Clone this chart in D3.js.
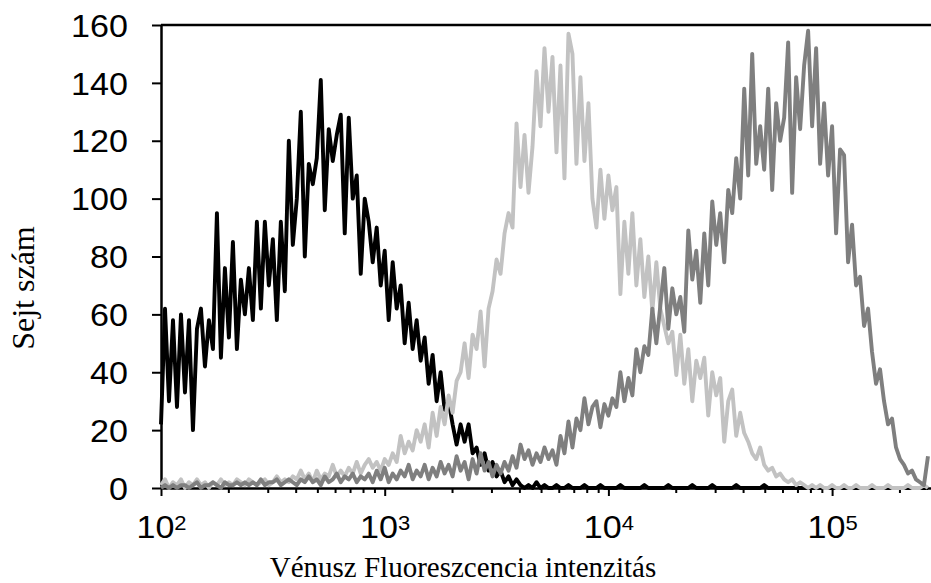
<!DOCTYPE html>
<html><head><meta charset="utf-8">
<script src="https://cdn.jsdelivr.net/npm/d3@7"></script>
<style>body{margin:0;background:#fff}svg{display:block}</style>
</head><body>
<svg id="c" width="931" height="583"></svg>
<script>
// ---- data (histogram bins, uniform in log10 space) ----
const binsPerDecade = 56;
const logStart = 2;
const blackCounts = [
22,62,30,58,28,60,33,58,20,55,
62,42,58,48,95,45,76,52,85,48,
72,60,76,58,92,62,92,70,86,58,
92,68,120,84,100,130,80,112,105,114,
141,96,124,113,122,129,88,128,100,108,
74,100,92,78,90,70,82,58,78,62,
70,50,64,48,58,44,52,36,46,30,
40,27,30,22,15,22,16,22,12,14,
8,12,6,9,4,6,2,4,1,3,
1,0,1,0,2,0,1,0,0,1,
0,0,1,0,0,0,1,0,0,0,
1,0,0,0,0,1,0,0,0,0,
0,1,0,0,0,0,0,1,0,0,
0,0,0,1,0,0,0,0,1,0,
0,0,0,0,1,0,0,0,0,0,
0,1,0,0,0,0,0,0,0,0,
0,0,0,0,0,0,0,0,0,0,
0,0,0,0,0,0,0,0,0,0,
0,0,0,0,0,0,0,0,0,0,
0,0,0];
const lightCounts = [
1,3,0,2,1,3,0,2,1,3,
1,2,0,2,1,3,1,2,1,3,
2,1,3,2,1,2,3,1,2,4,
2,3,2,4,3,6,3,5,2,6,
3,5,4,8,4,6,4,7,5,9,
5,8,10,7,9,6,10,8,12,9,
18,12,16,13,20,16,22,14,26,18,
28,22,32,26,37,40,50,38,53,48,
61,42,62,68,79,74,88,95,90,126,
104,122,102,118,144,125,152,130,149,116,
146,107,157,150,112,142,113,133,100,90,
110,93,108,96,104,67,92,74,95,70,
86,66,80,61,78,62,56,50,54,39,
53,36,48,30,44,38,45,25,40,32,
38,16,30,34,18,26,19,16,12,10,
14,8,6,7,4,5,3,2,3,1,
2,1,0,1,0,1,0,0,1,0,
0,1,0,0,1,0,0,0,1,0,
0,0,1,0,0,0,0,1,0,0,
0,1,0];
const darkCounts = [
0,1,0,1,0,1,1,0,1,2,
0,1,1,2,1,0,2,1,1,2,
1,2,1,2,1,3,1,2,2,3,
1,2,3,2,1,3,2,4,2,3,
1,4,2,3,5,2,4,3,5,2,
4,3,5,2,6,3,7,2,5,3,
6,4,8,3,6,4,8,3,7,4,
9,5,8,4,11,6,9,3,10,5,
12,6,9,4,8,5,9,6,11,7,
15,10,13,8,12,9,14,10,13,8,
18,12,23,14,24,20,31,22,28,30,
21,29,25,31,28,40,30,38,32,48,
40,49,46,62,50,63,76,55,69,60,
66,54,89,72,82,64,88,70,99,84,
95,78,103,95,114,100,138,108,150,112,
125,110,138,103,133,120,128,154,102,142,
124,146,158,125,152,112,133,108,125,88,
117,115,78,91,70,73,56,62,47,36,
41,30,22,24,14,10,8,5,6,3,
2,1,11];
const yTicks = [0,20,40,60,80,100,120,140,160];
const xDecades = [2,3,4,5];
const xMinorMultipliers = [1,2,3,4,5,6,7,8,9];
const xLabel = "Vénusz Fluoreszcencia intenzitás";
const yLabel = "Sejt szám";

// ---- layout ----
const plot = {left:161, right:931, top:25, bottom:488};
const decadePx = 223.7;
const xMax = Math.pow(10, 2 + (plot.right - plot.left) / decadePx);

const svg = d3.select('#c');
const x = d3.scaleLog().domain([100, xMax]).range([plot.left, plot.right]);
const y = d3.scaleLinear().domain([0, 160]).range([plot.bottom, plot.top]);
const binValue = i => Math.pow(10, logStart + i / binsPerDecade);

const sansFont = "'Liberation Sans', Arial, sans-serif";
const serifFont = "'Liberation Serif', 'Times New Roman', serif";
const hStretch = 1.1;

// x axis
const xTickVals = [];
xDecades.forEach(d => xMinorMultipliers.forEach(m => { const v = m * Math.pow(10, d); if (v <= xMax) xTickVals.push(v); }));
const isDecade = v => Math.abs(Math.log10(v) - Math.round(Math.log10(v))) < 1e-9;

const gx = svg.append('g')
  .attr('transform', `translate(0,${plot.bottom})`)
  .call(d3.axisBottom(x).tickValues(xTickVals).tickSize(5).tickSizeOuter(0).tickFormat(''));
gx.select('.domain').attr('stroke', '#000').attr('stroke-width', 2.5);
gx.selectAll('.tick line').attr('stroke', '#000').attr('stroke-width', 2).attr('y2', d => isDecade(d) ? 8 : 5);
gx.selectAll('.tick text').remove();
gx.selectAll('.tick').filter(d => isDecade(d)).each(function(d) {
  const exp = Math.round(Math.log10(d));
  const t = d3.select(this).append('text')
    .attr('y', 50).attr('text-anchor', 'middle')
    .attr('transform', `scale(${hStretch},1)`)
    .attr('font-family', sansFont).attr('font-size', 31).attr('fill', '#000');
  t.append('tspan').text('10');
  t.append('tspan').attr('font-size', 20).attr('dy', -8).text(exp);
});

// y axis
const gy = svg.append('g')
  .attr('transform', `translate(${plot.left},0)`)
  .call(d3.axisLeft(y).tickValues(yTicks).tickSize(9).tickSizeOuter(0));
gy.select('.domain').attr('stroke', '#000').attr('stroke-width', 2.5);
gy.selectAll('.tick line').attr('stroke', '#000').attr('stroke-width', 2);
gy.selectAll('.tick text')
  .attr('x', -33 / hStretch).attr('dy', '0.36em')
  .attr('transform', `scale(${hStretch},1)`)
  .attr('font-family', sansFont).attr('font-size', 31).attr('fill', '#000')
  .attr('text-anchor', 'end');

// top frame line
svg.append('line')
  .attr('x1', plot.left).attr('x2', plot.right)
  .attr('y1', y(160)).attr('y2', y(160))
  .attr('stroke', '#000').attr('stroke-width', 2.5);

// series
const series = [
  {values: blackCounts, color: '#000000'},
  {values: lightCounts, color: '#c2c2c2'},
  {values: darkCounts, color: '#7f7f7f'}
];
const line = d3.line().x((d, i) => x(binValue(i))).y(d => y(d));
series.forEach(s => {
  svg.append('path').datum(s.values)
    .attr('d', line).attr('fill', 'none')
    .attr('stroke', s.color).attr('stroke-width', 3.9)
    .attr('stroke-linejoin', 'round');
});

// titles
svg.append('text')
  .attr('x', 463).attr('y', 577)
  .attr('text-anchor', 'middle')
  .attr('font-family', serifFont).attr('font-size', 29).attr('fill', '#000')
  .text(xLabel);
svg.append('text')
  .attr('transform', `translate(34,288) rotate(-90)`)
  .attr('text-anchor', 'middle')
  .attr('font-family', serifFont).attr('font-size', 32).attr('fill', '#000')
  .text(yLabel);
</script>
</body></html>
